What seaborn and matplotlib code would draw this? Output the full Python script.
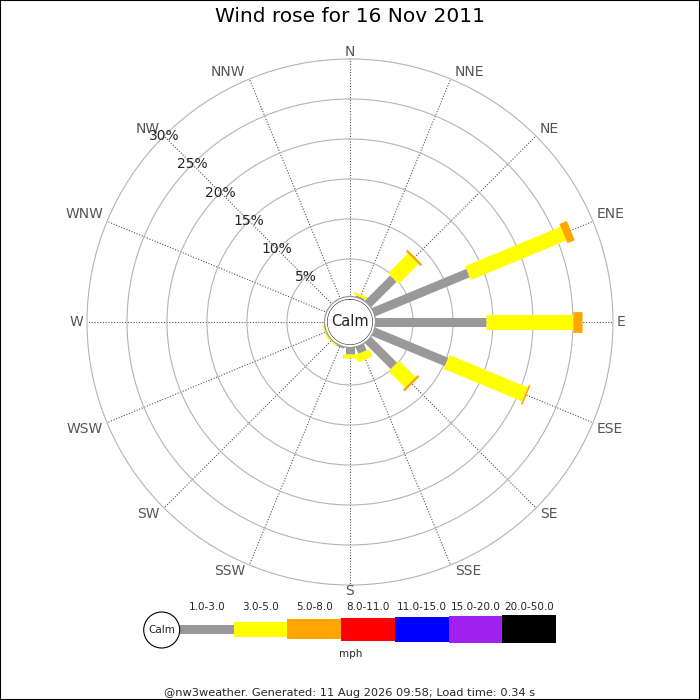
import numpy as np
import matplotlib
matplotlib.use("Agg")
import matplotlib.pyplot as plt
from matplotlib.patches import Circle, Rectangle
import seaborn as sns

# wind directions (16-point compass)
directions = ["N", "NNE", "NE", "ENE", "E", "ESE", "SE", "SSE",
              "S", "SSW", "SW", "WSW", "W", "WNW", "NW", "NNW"]

# speed bands (mph) and colours
bands = ["1.0-3.0", "3.0-5.0", "5.0-8.0", "8.0-11.0", "11.0-15.0", "15.0-20.0", "20.0-50.0"]
band_colors = ["#999999", "#ffff00", "#ffa500", "#ff0000", "#0000ff", "#a020f0", "#000000"]

# percentage of time per direction for each band
pct_1_3 = [0.0, 0.5, 4.8, 13.1, 14.1, 10.2, 4.9, 1.2, 1.1, 0.5, 0.0, 0.0, 0.0, 0.0, 0.0, 0.0]
pct_3_5 = [0.0, 0.3, 3.5, 12.9, 10.9, 10.6, 2.9, 1.0, 0.5, 0.0, 0.5, 0.5, 0.0, 0.0, 0.0, 0.0]
pct_5_8 = [0.0, 0.0, 0.3, 1.0, 1.1, 0.2, 0.3, 0.0, 0.0, 0.0, 0.0, 0.0, 0.0, 0.0, 0.0, 0.0]

ring_pcts = [5, 10, 15, 20, 25, 30]

title = "Wind rose for 16 Nov 2011"
footer = "@nw3weather. Generated: 11 Aug 2026 09:58; Load time: 0.34 s"

sns.set_style("white")
plt.rcParams["font.family"] = ["DejaVu Sans"]

fig = plt.figure(figsize=(7, 7), dpi=100)
ax = fig.add_axes([87 / 700, 115 / 700, 526 / 700, 526 / 700], projection="polar")
ax.set_theta_zero_location("N")
ax.set_theta_direction(-1)
ax.set_rlim(0, 30)
ax.set_rorigin(-23 / 8)

angles = np.deg2rad(np.arange(16) * 22.5)

# rings and spokes
ax.set_yticks(ring_pcts[:-1])
ax.set_yticklabels([])
ax.set_xticks(angles)
ax.set_xticklabels([])
ax.tick_params(length=0)
ax.yaxis.grid(True, color="#b4b4b4", linestyle="-", linewidth=0.8)
ax.xaxis.grid(True, color="#555555", linestyle=(1.3, (1, 1.5)), linewidth=0.8)
ax.spines["polar"].set_color("#b4b4b4")
ax.spines["polar"].set_linewidth(0.8)
ax.spines["inner"].set_visible(False)

# stacked bars drawn as thick butt-capped lines
series = [pct_1_3, pct_3_5, pct_5_8]
widths = [6.5, 10.8, 15.0]
for i, th in enumerate(angles):
    base = 0.0
    for vals, col, lw in zip(series, band_colors, widths):
        v = vals[i]
        if v > 0:
            ax.plot([th, th], [base, base + v], color=col, lw=lw,
                    solid_capstyle="butt", zorder=3)
        base += v

# calm circle
ax.add_patch(Circle((0.5, 0.5), 25.5 / 526, transform=ax.transAxes,
                    facecolor="white", edgecolor="#999999", lw=0.9, zorder=10))
ax.text(0.5, 0.5, "Calm", transform=ax.transAxes, ha="center", va="center",
        fontsize=10.5, zorder=11)

# compass labels, anchored at the end of each spoke
for th, name in zip(angles, directions):
    s, c = np.sin(th), np.cos(th)
    ha = "left" if s > 0.1 else ("right" if s < -0.1 else "center")
    if c > 0.1:
        va, dy = "baseline", 3
    elif c < -0.1:
        va, dy = "top", 1
    else:
        va, dy = "center", 0
    dx = 4 if s > 0.1 else (-4 if s < -0.1 else 0)
    ax.annotate(name, xy=(th, 30), xytext=(dx, dy), textcoords="offset pixels",
                ha=ha, va=va, fontsize=10, color="#555555", annotation_clip=False)

# radial labels along NW spoke
for p in ring_pcts:
    ax.text(np.deg2rad(315), p, f"{p}%", ha="center", va="center", fontsize=10,
            zorder=4)

fig.text(0.5, 1 - 17 / 700, title, ha="center", va="center", fontsize=14.5,
         color="black")

# legend strip
lax = fig.add_axes([180 / 700, (700 - 646) / 700, 376 / 700, 34 / 700])
heights = [9, 15, 20, 23, 25, 27, 28]
xs = np.arange(len(bands))
lax.bar(xs, heights, width=1.0, bottom=-np.array(heights) / 2, color=band_colors,
        edgecolor="none", linewidth=0)
lax.set_xlim(-0.5, len(bands) - 0.5)
lax.set_ylim(-17, 17)
lax.axis("off")
for x, lab in zip(xs, bands):
    fig.text((180 + 53.7 * (x + 0.5)) / 700, 1 - 607 / 700, lab,
             ha="center", va="center", fontsize=7.5)
fig.text(351 / 700, 1 - 654 / 700, "mph", ha="center", va="center", fontsize=7.5)
fig.add_artist(Circle((161.7 / 700, 1 - 630 / 700), 18 / 700, transform=fig.transFigure,
                      facecolor="white", edgecolor="black", lw=0.8))
fig.text(161.7 / 700, 1 - 630 / 700, "Calm", ha="center", va="center", fontsize=7.5)

fig.text(0.5, 1 - 693 / 700, footer, ha="center", va="center", fontsize=8.2)

# border
fig.add_artist(Rectangle((0, 0), 1, 1, transform=fig.transFigure, fill=False,
                         edgecolor="black", lw=1.5))

fig.savefig("out.png", dpi=100)
